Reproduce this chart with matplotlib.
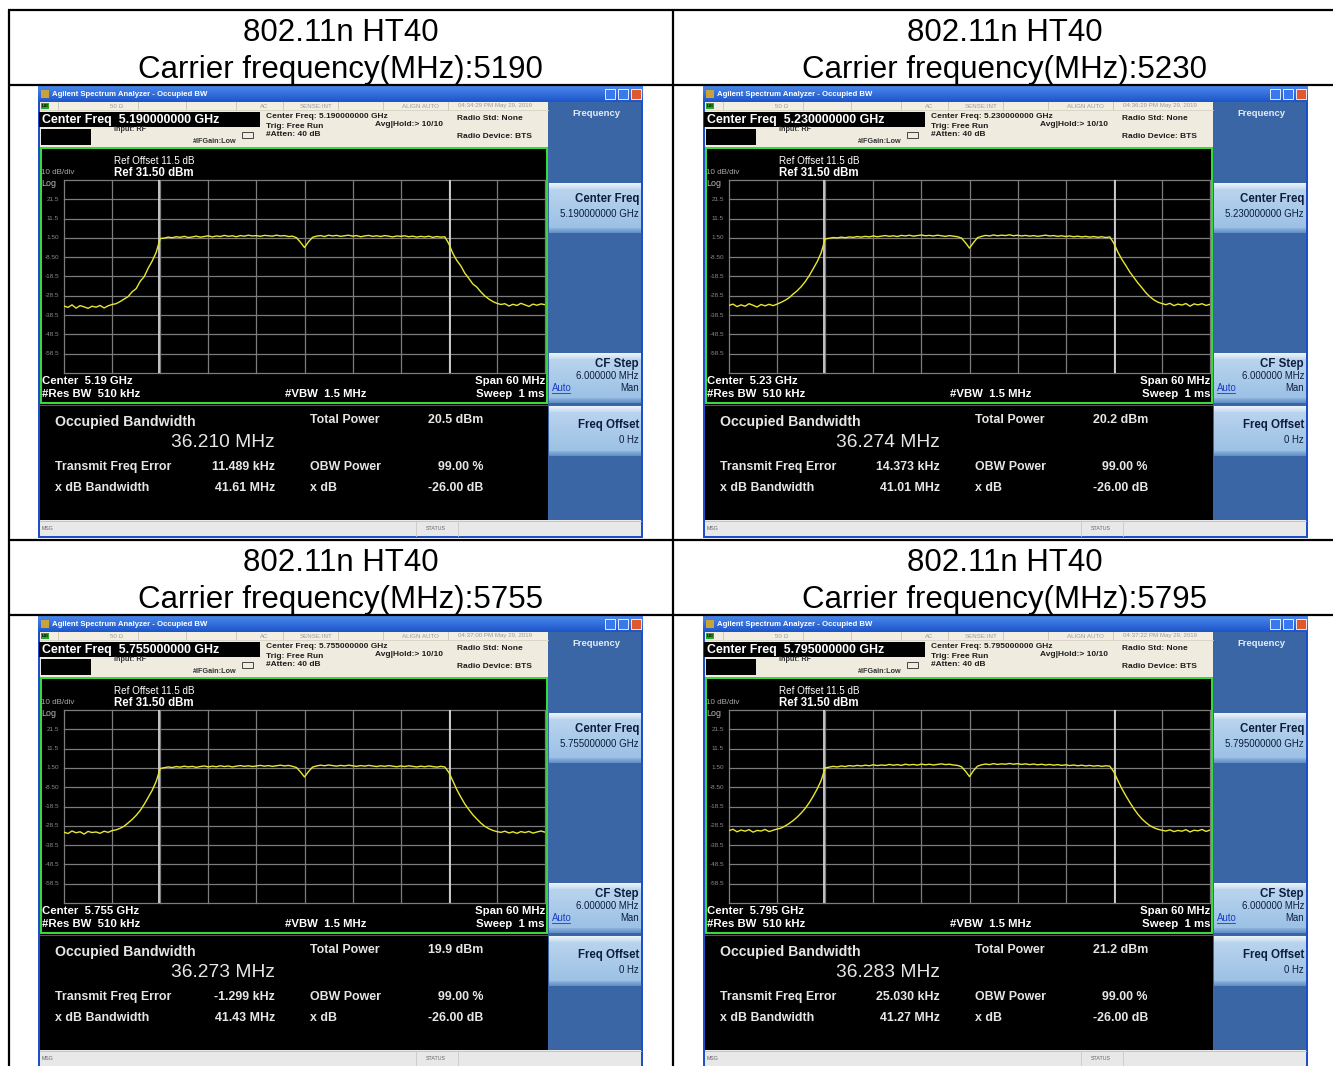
import numpy as np
import matplotlib
matplotlib.use("Agg")
import matplotlib.pyplot as plt
import matplotlib.colors as mcolors
from matplotlib.patches import Rectangle

plt.rcParams['font.family'] = ['Liberation Sans', 'DejaVu Sans']

# ---------------- data ----------------
standard = "802.11n HT40"
carrier_mhz = [5190, 5230, 5755, 5795]
center_freq_text = ["5.190000000", "5.230000000", "5.755000000", "5.795000000"]
center_short = ["5.19", "5.23", "5.755", "5.795"]
timestamps = ["04:34:29 PM May 29, 2019", "04:36:29 PM May 29, 2019",
              "04:37:00 PM May 29, 2019", "04:37:22 PM May 29, 2019"]
obw_mhz = ["36.210", "36.274", "36.273", "36.283"]
total_power_dbm = ["20.5", "20.2", "19.9", "21.2"]
freq_error_khz = ["11.489", "14.373", "-1.299", "25.030"]
xdb_bw_mhz = ["41.61", "41.01", "41.43", "41.27"]
obw_power = "99.00 %"
xdb_value = "-26.00 dB"
ref_level_dbm = 31.5
db_per_div = 10
span_mhz = 60
y_tick_labels = ["21.5", "11.5", "1.50", "-8.50", "-18.5", "-28.5", "-38.5", "-48.5", "-58.5"]

# trace values (dBm), sweep from -30 MHz to +30 MHz offset, 0.5 MHz apart
trace_5190 = [
    -33.8, -34.5, -33.2, -34.9, -33.6, -34.2, -35.0, -33.9, -34.4, -33.5, -34.8, -33.7, -33.0,
    -32.6, -31.5, -30.2, -28.9, -26.4, -24.8, -21.0, -18.6, -14.2, -10.5, -6.0,
    1.2,
    1.4, 1.9, 1.6, 2.1, 1.8, 2.3, 1.7, 2.0, 2.4, 1.9, 2.2, 2.6, 2.0, 2.5, 2.2, 2.8, 2.3,
    2.6, 2.1, 2.7, 2.4, 2.9, 2.5, 2.7, 2.3, 2.8, 2.6, 2.4, 2.9, 2.5, 2.7, 2.2, 2.4, 1.6,
    -0.8, -3.5, -0.5, 1.8,
    2.4, 2.7, 2.2, 2.9, 2.5, 2.8, 2.3, 2.6, 2.9, 2.4, 2.7, 2.1, 2.5, 2.8, 2.3, 2.6, 2.2,
    2.7, 2.4, 2.0, 2.5, 2.3, 2.6, 2.1, 2.4, 1.9, 2.3, 2.0, 2.4, 1.8, 2.2, 1.9, 2.1,
    -1.5,
    -6.5, -10.2, -13.0, -16.8, -19.5, -22.4, -24.0, -26.5, -28.6, -30.2, -31.5, -32.4,
    -33.0, -32.6, -33.8, -32.9, -33.5, -32.4, -33.2, -34.0, -32.8, -33.4, -32.7, -33.1]
trace_5230 = [
    -33.5, -32.8, -34.1, -33.2, -33.9, -32.6, -33.4, -34.3, -33.0, -33.7, -32.9, -33.6, -32.8,
    -31.9, -30.8, -29.5, -27.6, -25.9, -23.8, -21.2, -18.1, -14.5, -10.8, -6.2,
    1.0,
    1.3, 1.7, 1.5, 1.9, 1.6, 2.0, 1.8, 2.2, 1.9, 2.3, 2.0, 2.5, 2.1, 2.4, 2.7, 2.3, 2.6,
    2.2, 2.8, 2.5, 2.9, 2.4, 2.7, 3.0, 2.6, 2.8, 2.5, 2.9, 2.6, 2.3, 2.7, 2.4, 2.1, 1.4,
    -1.0, -3.8, -0.9, 1.6,
    2.3, 2.8, 2.5, 3.0, 2.6, 2.9, 2.7, 3.1, 2.6, 2.9, 2.5, 2.8, 2.4, 2.7, 2.3, 2.6, 2.9,
    2.5, 2.7, 2.3, 2.6, 2.2, 2.5, 2.1, 2.4, 2.0, 2.3, 1.9, 2.2, 1.8, 2.1, 1.7, 2.0,
    -1.2,
    -5.8, -9.6, -12.8, -16.2, -19.0, -21.8, -24.3, -26.9, -29.0, -30.6, -31.8, -32.5,
    -33.1, -32.4, -33.6, -32.8, -33.3, -32.5, -33.9, -32.7, -33.2, -32.6, -33.5, -32.9]
trace_5755 = [
    -31.8, -32.5, -31.2, -32.1, -31.6, -32.8, -31.4, -32.0, -31.7, -32.4, -31.3, -31.9, -31.0,
    -30.6, -29.8, -28.7, -27.0, -25.2, -23.1, -20.6, -17.4, -13.8, -10.1, -5.5,
    1.2,
    1.6, 2.0, 1.7, 2.2, 1.9, 2.4, 2.0, 2.3, 1.8, 2.2, 2.5, 2.0, 2.4, 2.1, 2.6, 2.2, 2.5,
    2.0, 2.4, 2.7, 2.3, 2.6, 2.2, 2.5, 2.8, 2.4, 2.7, 2.3, 2.6, 2.9, 2.5, 2.8, 2.3, 1.7,
    -0.6, -3.2, -0.4, 1.9,
    2.5, 2.9, 2.6, 3.0, 2.7, 2.4, 2.8, 2.5, 2.9, 2.6, 2.3, 2.7, 2.4, 2.8, 2.5, 2.2, 2.6,
    2.3, 2.7, 2.4, 2.1, 2.5, 2.2, 2.6, 2.3, 2.0, 2.4, 2.1, 2.5, 2.2, 1.9, 2.3, 2.0,
    -0.8,
    -5.2, -9.8, -13.6, -17.2, -20.1, -22.8, -25.0, -27.1, -28.8, -30.0, -30.9, -31.5,
    -31.9, -31.3, -32.2, -31.6, -32.4, -31.5, -32.0, -31.4, -32.3, -31.7, -31.2, -31.8]
trace_5795 = [
    -31.0, -30.3, -31.6, -30.7, -31.3, -30.5, -31.8, -30.9, -31.2, -30.4, -31.5, -30.8, -30.2,
    -29.7, -28.6, -27.3, -25.8, -24.0, -21.9, -19.5, -16.6, -13.2, -9.4, -5.0,
    1.5,
    1.9, 2.3, 2.0, 2.5, 2.2, 2.7, 2.4, 2.8, 2.5, 2.9, 2.6, 3.1, 2.7, 3.0, 2.8, 3.3, 2.9,
    3.2, 2.8, 3.4, 3.0, 3.3, 2.9, 3.5, 3.1, 3.4, 3.0, 3.3, 3.6, 3.2, 3.4, 3.0, 2.8, 2.1,
    -0.2, -3.0, 0.1, 2.4,
    3.1, 3.5, 3.2, 3.7, 3.3, 3.6, 3.4, 3.8, 3.4, 3.7, 3.3, 3.6, 3.2, 3.5, 3.1, 3.4, 3.0,
    3.3, 2.9, 3.2, 2.8, 3.1, 2.7, 3.0, 2.6, 2.9, 2.5, 2.8, 2.4, 2.7, 2.3, 2.6, 2.4,
    -0.5,
    -5.0, -9.2, -12.9, -16.4, -19.6, -22.5, -24.9, -26.8, -28.4, -29.5, -30.3, -30.8,
    -31.2, -30.6, -31.5, -30.9, -31.3, -30.5, -31.7, -30.8, -31.1, -30.4, -31.4, -30.7]
traces = [trace_5190, trace_5230, trace_5755, trace_5795]

# ---------------- figure ----------------
W, H = 1333, 1066
fig = plt.figure(figsize=(W / 100, H / 100), dpi=100)
fig.patch.set_facecolor('white')
ax = fig.add_axes([0, 0, 1, 1])
ax.set_xlim(0, W)
ax.set_ylim(H, 0)
ax.axis('off')


def rect(x, y, w, h, fc, ec='none', lw=0, z=1):
    ax.add_patch(Rectangle((x, y), w, h, facecolor=fc, edgecolor=ec, linewidth=lw, zorder=z))


def grad(x0, y0, x1, y1, ctop, cbot, z=2):
    a = np.array(mcolors.to_rgb(ctop))
    b = np.array(mcolors.to_rgb(cbot))
    t = np.linspace(0, 1, 40)[:, None]
    img = (a * (1 - t) + b * t)[:, None, :]
    ax.imshow(img, extent=(x0, x1, y1, y0), aspect='auto', interpolation='bilinear', zorder=z)


def txt(x, y, s, size, color, weight='normal', ha='left', va='center', z=5):
    ax.text(x, y, s, fontsize=size, color=color, fontweight=weight, ha=ha, va=va, zorder=z)


# ---------------- table ----------------
LW = 1.6
for yy in [10, 85, 540, 615]:
    ax.plot([8, 1340], [yy, yy], color='black', lw=LW, zorder=10, solid_capstyle='butt')
for xx in [8.5, 672.5, 1337.5]:
    ax.plot([xx, xx], [10, 1070], color='black', lw=LW, zorder=10, solid_capstyle='butt')

header_centers = [(340.5, 10), (1005, 10), (340.5, 540), (1005, 540)]
for (cx, ty), f in zip(header_centers, carrier_mhz):
    ax.text(cx, ty + 23, standard, fontsize=22.5, ha='center', va='center', color='black')
    ax.text(cx, ty + 60, "Carrier frequency(MHz):%d" % f, fontsize=22.5,
            ha='center', va='center', color='black')

# ---------------- screenshots ----------------
origins = [(38, 86), (703, 86), (38, 616), (703, 616)]
PW, PH = 605, 452
dark_txt = '#1e1e1e'
soft_txt = '#0c1d3e'

for k, (ox, oy) in enumerate(origins):
    # window frame
    rect(ox, oy, PW, PH, '#1f4fc8', z=1)
    # title bar
    grad(ox, oy, ox + PW, oy + 16, '#4a88ec', '#1d55c9')
    txt(ox + 14, oy + 8, "Agilent Spectrum Analyzer - Occupied BW", 5.6, 'white', 'bold')
    rect(ox + 3, oy + 4, 8, 8, '#c9a23a', z=3)
    # window buttons
    for bx, col in [(ox + 567, '#3a78ee'), (ox + 580, '#3a78ee'), (ox + 593, '#e0582c')]:
        rect(bx, oy + 3, 10, 10, col, ec='white', lw=0.6, z=3)
    # soft-key panel
    rect(ox + 510, oy + 16, 93, 418, '#3b66a6', z=2)
    txt(ox + 558, oy + 28, "Frequency", 6.8, '#e4ecf7', 'bold', ha='center')
    for by0, by1 in [(97, 147), (267, 317), (320, 370)]:
        grad(ox + 511, oy + by0, ox + 603, oy + by0 + 6, '#eef5fb', '#c4dbef', z=3)
        grad(ox + 511, oy + by0 + 6, ox + 603, oy + by1 - 5, '#b9d4ee', '#9cc1e5', z=3)
        grad(ox + 511, oy + by1 - 5, ox + 603, oy + by1, '#8fb5de', '#5f8cc4', z=3)
    txt(ox + 601, oy + 113, "Center Freq", 8.3, soft_txt, 'bold', ha='right')
    txt(ox + 601, oy + 128, center_freq_text[k] + " GHz", 7.0, soft_txt, ha='right')
    txt(ox + 601, oy + 278, "CF Step", 8.3, soft_txt, 'bold', ha='right')
    txt(ox + 601, oy + 290, "6.000000 MHz", 6.9, soft_txt, ha='right')
    txt(ox + 601, oy + 302, "Man", 6.9, soft_txt, ha='right')
    txt(ox + 514, oy + 302, "Auto", 6.9, '#1a3cc8')
    ax.plot([ox + 514, ox + 532], [oy + 307, oy + 307], color='#1a3cc8', lw=0.6, zorder=5)
    txt(ox + 601, oy + 339, "Freq Offset", 8.3, soft_txt, 'bold', ha='right')
    txt(ox + 601, oy + 354, "0 Hz", 6.9, soft_txt, ha='right')

    # status row
    rect(ox + 2, oy + 16, 508, 8, '#f2efe2', z=2)
    rect(ox + 3, oy + 17, 8, 6, '#2aa52a', z=3)
    txt(ox + 4, oy + 20, "LXI", 3.2, 'black', 'bold')
    for sx in [20, 100, 148, 198, 245, 300, 345, 410]:
        ax.plot([ox + sx, ox + sx], [oy + 16, oy + 24], color='#c8c4b4', lw=0.6, zorder=3)
    for sx, s in [(72, "50 \u03a9"), (222, "AC"), (262, "SENSE:INT"), (364, "ALIGN AUTO"), (420, timestamps[k])]:
        txt(ox + sx, oy + 20, s, 4.4, '#9a9a9a')
    # header
    rect(ox + 2, oy + 24, 508, 37, '#efebdf', z=2)
    ax.plot([ox + 2, ox + 510], [oy + 24, oy + 24], color='#d6d2c4', lw=0.6, zorder=3)
    rect(ox + 1, oy + 26, 221, 15, 'black', z=3)
    txt(ox + 4, oy + 33.5, "Center Freq  " + center_freq_text[k] + " GHz", 8.9, 'white', 'bold')
    rect(ox + 3, oy + 43, 50, 16, 'black', z=3)
    txt(ox + 76, oy + 43.5, "Input: RF", 5.2, '#333333', 'bold')
    txt(ox + 155, oy + 55.5, "#IFGain:Low", 5.2, '#333333', 'bold')
    ax.add_patch(Rectangle((ox + 204, oy + 46), 11, 6, facecolor='none', edgecolor='#444444',
                           linewidth=0.7, zorder=4))
    txt(ox + 228, oy + 31, "Center Freq: " + center_freq_text[k] + " GHz", 6.0, dark_txt, 'bold')
    txt(ox + 228, oy + 40, "Trig: Free Run", 6.0, dark_txt, 'bold')
    txt(ox + 228, oy + 49, "#Atten: 40 dB", 6.0, dark_txt, 'bold')
    txt(ox + 337, oy + 38.5, "Avg|Hold:> 10/10", 6.0, dark_txt, 'bold')
    txt(ox + 419, oy + 32, "Radio Std: None", 6.0, dark_txt, 'bold')
    txt(ox + 419, oy + 51, "Radio Device: BTS", 6.0, dark_txt, 'bold')

    # plot area
    rect(ox + 2, oy + 61, 508, 257, 'black', z=2)
    ax.add_patch(Rectangle((ox + 3, oy + 62), 506, 255, facecolor='none', edgecolor='#3ce03c',
                           linewidth=1.4, zorder=4))
    txt(ox + 76, oy + 75.5, "Ref Offset 11.5 dB", 7.1, 'white')
    txt(ox + 76, oy + 86.5, "Ref %.2f dBm" % ref_level_dbm, 8.3, 'white', 'bold')
    txt(ox + 3, oy + 87, "%d dB/div" % db_per_div, 5.8, '#a8a8a8')
    txt(ox + 3, oy + 97, "Log", 6.4, '#b8b8b8')
    gx0, gx1, gy0, gy1 = ox + 26, ox + 507, oy + 94, oy + 287
    for i, lab in enumerate(y_tick_labels):
        yy = gy0 + (i + 1) * (gy1 - gy0) / 10
        txt(ox + 21, yy, lab, 4.6, '#8a8a8a', ha='right')
    txt(ox + 4, oy + 295, "Center  " + center_short[k] + " GHz", 8.2, 'white', 'bold')
    txt(ox + 4, oy + 308, "#Res BW  510 kHz", 8.2, 'white', 'bold')
    txt(ox + 247, oy + 308, "#VBW  1.5 MHz", 8.2, 'white', 'bold')
    txt(ox + 507, oy + 295, "Span %d MHz" % span_mhz, 8.2, 'white', 'bold', ha='right')
    txt(ox + 507, oy + 308, "Sweep  1 ms", 8.2, 'white', 'bold', ha='right')

    # measurement area
    rect(ox + 2, oy + 318, 508, 116, 'black', z=2)
    ax.plot([ox + 2, ox + 510], [oy + 318.5, oy + 318.5], color='#555555', lw=0.8, zorder=3)
    mc = '#e6e6e6'
    txt(ox + 17, oy + 336, "Occupied Bandwidth", 10.2, mc, 'bold')
    txt(ox + 237, oy + 356.5, obw_mhz[k] + " MHz", 13.8, mc, 'normal', ha='right')
    txt(ox + 272, oy + 334, "Total Power", 8.9, mc, 'bold')
    txt(ox + 445, oy + 334, total_power_dbm[k] + " dBm", 8.9, mc, 'bold', ha='right')
    txt(ox + 17, oy + 381, "Transmit Freq Error", 8.9, mc, 'bold')
    txt(ox + 237, oy + 381, freq_error_khz[k] + " kHz", 8.9, mc, 'bold', ha='right')
    txt(ox + 272, oy + 381, "OBW Power", 8.9, mc, 'bold')
    txt(ox + 445, oy + 381, obw_power, 8.9, mc, 'bold', ha='right')
    txt(ox + 17, oy + 402, "x dB Bandwidth", 8.9, mc, 'bold')
    txt(ox + 237, oy + 402, xdb_bw_mhz[k] + " MHz", 8.9, mc, 'bold', ha='right')
    txt(ox + 272, oy + 402, "x dB", 8.9, mc, 'bold')
    txt(ox + 445, oy + 402, xdb_value, 8.9, mc, 'bold', ha='right')

    # status bar
    rect(ox + 2, oy + 434, 601, 16, '#e8e8e8', z=2)
    ax.plot([ox + 2, ox + 603], [oy + 434.5, oy + 434.5], color='#bdbdbd', lw=0.6, zorder=3)
    txt(ox + 4, oy + 443, "MSG", 3.8, '#666666')
    txt(ox + 388, oy + 443, "STATUS", 3.8, '#666666')
    for sx in [378, 420]:
        ax.plot([ox + sx, ox + sx], [oy + 436, oy + 450], color='#c8c8c8', lw=0.6, zorder=3)

    # spectrum trace axes
    tax = fig.add_axes([gx0 / W, 1 - gy1 / H, (gx1 - gx0) / W, (gy1 - gy0) / H])
    tax.set_xlim(-span_mhz / 2, span_mhz / 2)
    bottom = ref_level_dbm - 10 * db_per_div
    tax.set_ylim(bottom, ref_level_dbm)
    tax.axis('off')
    tax.patch.set_visible(False)
    for v in np.linspace(-span_mhz / 2, span_mhz / 2, 11):
        tax.axvline(v, color='#7c7c7c', lw=0.9, zorder=1, clip_on=False)
    for v in np.linspace(bottom, ref_level_dbm, 11):
        tax.axhline(v, color='#7c7c7c', lw=0.9, zorder=1, clip_on=False)
    half = float(obw_mhz[k]) / 2
    for v in (-half, half):
        tax.axvline(v, color='#d4d4d4', lw=1.3, zorder=2)
    vals = np.array(traces[k])
    freqs = np.linspace(-span_mhz / 2, span_mhz / 2, len(vals))
    tax.plot(freqs, vals, color='#e8e830', lw=1.0, zorder=3)

fig.savefig("out.png", dpi=100)
